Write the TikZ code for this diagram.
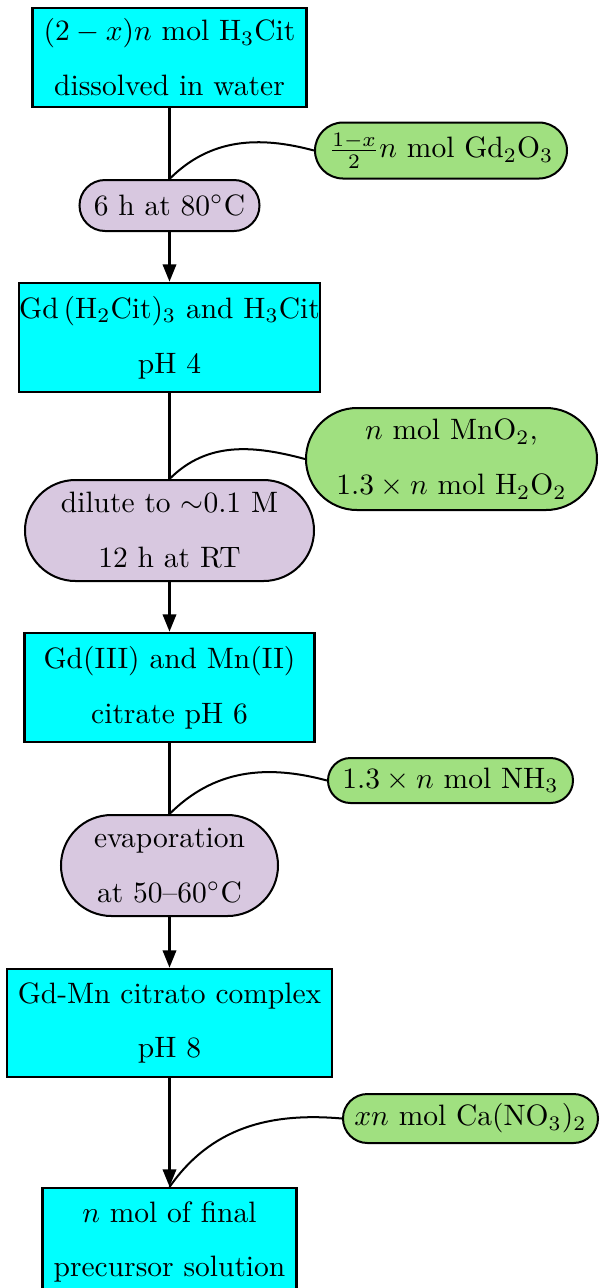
\documentclass[tikz,border=0pt]{standalone}
\usetikzlibrary{arrows.meta}
% one drawing unit = one pixel of the layout grid
\newcommand{\pxu}{0.339pt}
\definecolor{procfill}{RGB}{0,255,255}
\definecolor{stagefill}{RGB}{216,200,224}
\definecolor{reagfill}{RGB}{160,224,128}
\tikzset{
  proc/.style 2 args={draw, fill=procfill, line width=0.68pt, inner sep=0pt,
    align=center, minimum width=#1*\pxu, minimum height=#2*\pxu},
  stage/.style 2 args={draw, fill=stagefill, line width=0.68pt, inner sep=0pt,
    align=center, minimum width=#1*\pxu, minimum height=#2*\pxu,
    rounded corners=#2*0.5*\pxu},
  reag/.style 2 args={draw, fill=reagfill, line width=0.68pt, inner sep=0pt,
    align=center, minimum width=#1*\pxu, minimum height=#2*\pxu,
    rounded corners=#2*0.5*\pxu},
  flow/.style={line width=1.2pt},
  flowarrow/.style={flow, -{Triangle[length=6pt,width=4.4pt]}},
  feed/.style={line width=0.68pt},
}
\begin{document}
\begin{tikzpicture}[x=0.339pt, y=-0.339pt]
  \useasboundingbox (0,0) rectangle (602,1288);
  \clip (0,0) rectangle (602,1288);

  % main process chain
  \node[proc={274}{99}] (b1) at (169.5,57.5)
    {$(2-x)n$ mol H$_3$Cit\\[6.6pt]dissolved in water};
  \node[stage={180}{51}] (s1) at (169.5,205.5) {6 h at 80$^\circ$C};
  \node[proc={301}{109}] (b2) at (169.5,337.5)
    {Gd\,(H$_2$Cit)$_3$ and H$_3$Cit\\[6.6pt]pH 4};
  \node[stage={289}{101}] (s2) at (169.5,530.5)
    {dilute to $\sim$0.1 M\\[6.6pt]12 h at RT};
  \node[proc={290}{109}] (b3) at (169.5,687.5)
    {Gd(III) and Mn(II)\\[6.6pt]citrate pH 6};
  \node[stage={217}{101}] (s3) at (169.5,865.5)
    {evaporation\\[6.6pt]at 50--60$^\circ$C};
  \node[proc={325}{108}] (b4) at (169.5,1023)
    {Gd-Mn citrato complex\\[6.6pt]pH 8};
  \node[proc={254}{108}] (b5) at (169.5,1242)
    {$n$ mol of final\\[6.6pt]precursor solution};

  % reagents added along the way
  \node[reag={252}{56}] (r1) at (441,150.5) {$\frac{1-x}{2}n$ mol Gd$_2$O$_3$};
  \node[reag={291}{102}] (r2) at (451.5,459)
    {$n$ mol MnO$_2$,\\[6.6pt]$1.3\times n$ mol H$_2$O$_2$};
  \node[reag={245}{45}] (r3) at (450.5,780.5) {$1.3\times n$ mol NH$_3$};
  \node[reag={255}{49}] (r4) at (470.5,1118.5) {$xn$ mol Ca(NO$_3$)$_2$};

  % flow connectors
  \draw[flow] (b1.south) -- (s1.north);
  \draw[flowarrow] (s1.south) -- (b2.north);
  \draw[flow] (b2.south) -- (s2.north);
  \draw[flowarrow] (s2.south) -- (b3.north);
  \draw[flow] (b3.south) -- (s3.north);
  \draw[flowarrow] (s3.south) -- (b4.north);
  \draw[flowarrow] (b4.south) -- (b5.north);

  % reagent feeds
  \draw[feed] (r1.west) to[out=165, in=45] (s1.north);
  \draw[feed] (r2.west) to[out=165, in=45] (s2.north);
  \draw[feed] (r3.west) to[out=165, in=45] (s3.north);
  \draw[feed] (r4.west) to[out=175, in=55] (b5.north);
\end{tikzpicture}
\end{document}
